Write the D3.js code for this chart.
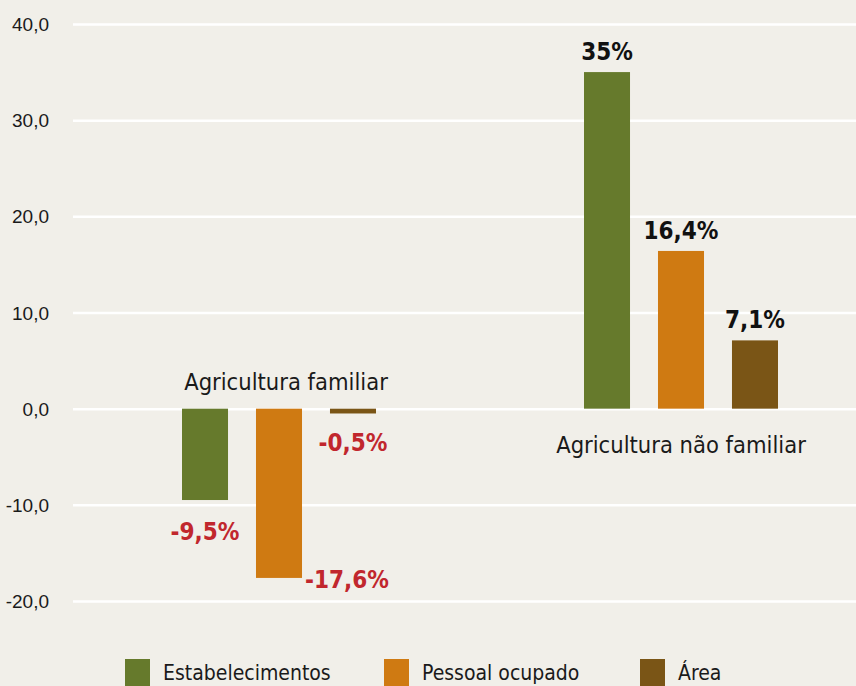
<!DOCTYPE html>
<html>
<head>
<meta charset="utf-8">
<script src="https://cdn.jsdelivr.net/npm/d3@7"></script>
<style>
  body { margin: 0; background: #f1efe9; }
  svg { display: block; font-family: "Liberation Sans Narrow", "DejaVu Sans Condensed", "Arial Narrow", sans-serif; font-stretch: condensed; }
</style>
</head>
<body>
<div class="chart"></div>
<script>
var categories = ['Agricultura familiar', 'Agricultura não familiar'];
var series = ['Estabelecimentos', 'Pessoal ocupado', 'Área'];
var familiar = [-9.5, -17.6, -0.5];
var naoFamiliar = [35, 16.4, 7.1];
var valueLabels = [['-9,5%', '-17,6%', '-0,5%'], ['35%', '16,4%', '7,1%']];
var yTicks = [-20, -10, 0, 10, 20, 30, 40];

var width = 856;
var height = 686;
var colors = ['#667a2c', '#cf7a12', '#7a5516'];

var values = [familiar, naoFamiliar];

var locale = d3.formatLocale({ decimal: ",", thousands: ".", grouping: [3], currency: ["", ""], minus: "-" });
var format = locale.format(".1f");

var svg = d3.select(".chart")
.append("svg")
.attr("width", width)
.attr("height", height);

svg.append("rect")
.attr("width", width)
.attr("height", height)
.attr("fill", "#f1efe9");

var y = d3.scaleLinear()
.domain([-20, 40])
.range([601, 24]);

var x0 = d3.scalePoint()
.domain(categories)
.range([279, 681]);

var x1 = d3.scaleBand()
.domain(series)
.range([-97, 97])
.paddingInner(0.378);

// gridlines + tick labels
var axis = d3.axisLeft(y)
.tickValues(yTicks)
.tickFormat(format)
.tickSize(-(width - 73))
.tickPadding(24);

var gAxis = svg.append("g")
.attr("transform", "translate(73,0)")
.call(axis);

gAxis.select(".domain").remove();
gAxis.selectAll(".tick line")
.attr("stroke", "#ffffff")
.attr("stroke-width", 2.5);
gAxis.selectAll(".tick text")
.attr("fill", "#1a1a1a")
.style("font-size", "19px")
.attr("dy", "0.35em");

// bars
var groups = svg.append("g")
.selectAll("g")
.data(categories)
.enter().append("g")
.attr("transform", function(d) { return "translate(" + x0(d) + ",0)"; });

groups.selectAll("rect")
.data(function(d, i) {
  return series.map(function(s, j) { return { cat: i, s: s, j: j, v: values[i][j] }; });
})
.enter().append("rect")
.attr("x", function(d) { return x1(d.s); })
.attr("width", x1.bandwidth())
.attr("y", function(d) { return y(Math.max(0, d.v)); })
.attr("height", function(d) { return Math.abs(y(d.v) - y(0)); })
.attr("fill", function(d) { return colors[d.j]; });

// value labels
// negative labels sit in odd spots in the original, nudge them by hand
var negNudge = [[0, 40, 'middle'], [x1.bandwidth() / 2 + 3, 10, 'start'], [0, 38, 'middle']];

groups.selectAll("text.val")
.data(function(d, i) {
  return series.map(function(s, j) { return { cat: i, s: s, j: j, v: values[i][j] }; });
})
.enter().append("text")
.attr("class", "val")
.attr("x", function(d) {
  var cx = x1(d.s) + x1.bandwidth() / 2;
  return d.v < 0 ? cx + negNudge[d.j][0] : cx;
})
.attr("y", function(d) {
  return d.v < 0 ? y(d.v) + negNudge[d.j][1] : y(d.v) - 12;
})
.attr("text-anchor", function(d) { return d.v < 0 ? negNudge[d.j][2] : 'middle'; })
.attr("fill", function(d) { return d.v < 0 ? '#c1272d' : '#111111'; })
.style("font-size", "24px")
.style("font-weight", "bold")
.text(function(d) { return valueLabels[d.cat][d.j]; });

// category labels
svg.selectAll("text.cat")
.data(categories)
.enter().append("text")
.attr("class", "cat")
.attr("x", function(d, i) { return i === 0 ? x0(d) + 7 : x0(d); })
.attr("y", function(d, i) { return i === 0 ? 390 : 453; })
.attr("text-anchor", "middle")
.attr("fill", "#1a1a1a")
.style("font-size", "23.5px")
.text(function(d) { return d; });

// legend
var legendX = [125, 384, 640];
var legend = svg.append("g")
.selectAll("g")
.data(series)
.enter().append("g")
.attr("transform", function(d, i) { return "translate(" + legendX[i] + ",659)"; });

legend.append("rect")
.attr("width", 25)
.attr("height", 27)
.attr("fill", function(d, i) { return colors[i]; });

legend.append("text")
.attr("x", 38)
.attr("y", 21)
.attr("fill", "#1a1a1a")
.style("font-size", "21px")
.text(function(d) { return d; });
</script>
</body>
</html>
